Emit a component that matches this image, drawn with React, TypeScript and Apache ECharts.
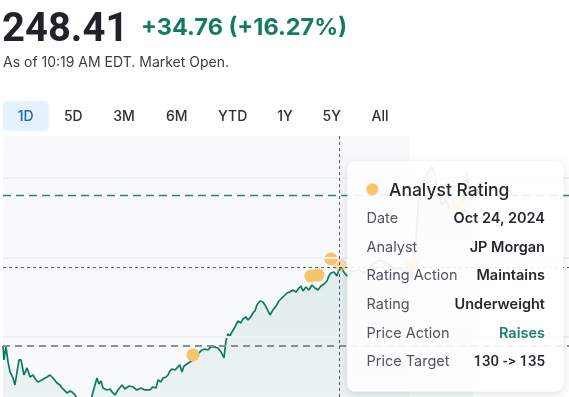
import React, { useEffect, useRef } from "react";
import * as echarts from "echarts";

// minutes since 4:00 AM (pre-market), price in USD
const minutes = [
  0, 0.8, 2.4, 4.1, 5.7, 8.1, 9.7, 11.4, 13.0, 14.6, 17.0, 19.5, 21.9, 24.3, 26.8, 28.4, 31.6, 34.1, 35.7, 38.1,
  40.5, 43.8, 46.2, 47.8, 50.3, 51.9, 54.3, 55.9, 58.4, 60.8, 66.5, 71.4, 73.0, 74.6, 76.2, 77.8, 79.5, 81.1, 84.3, 86.8,
  88.4, 90.8, 93.2, 96.5, 98.9, 102.2, 105.4, 108.6, 111.9, 115.1, 119.2, 121.6, 124.1, 125.7, 128.1, 129.7, 132.2, 133.8, 135.4, 137.0,
  139.5, 141.1, 143.5, 145.1, 146.8, 149.2, 151.6, 154.1, 156.5, 158.9, 161.4, 163.8, 166.2, 168.6, 171.9, 174.3, 176.8, 179.2, 180.8, 182.4,
  184.1, 185.7, 188.1, 190.5, 193.0, 194.6, 197.0, 198.6, 200.3, 202.7, 204.3, 205.9, 208.4, 210.8, 212.4, 214.1, 216.5, 218.9, 221.4, 223.8,
  225.4, 227.8, 230.3, 232.7, 235.1, 237.6, 240.0, 241.6, 243.2, 245.7, 248.1, 250.5, 253.0, 255.4, 257.8, 260.3, 262.7, 264.3, 265.9, 268.4,
  270.8, 272.4, 274.8, 276.4, 278.9, 283.0, 287.8, 292.7, 297.6, 301.6, 305.7, 309.7, 313.8, 317.8, 321.9, 325.9, 329.2, 331.6, 334.9, 337.3,
  339.8, 342.2, 344.6, 347.9, 350.4, 352.8, 356.1, 359.3, 362.4, 366.6, 370.6, 373.9, 376.3, 377.9, 381.1,
];
const prices = [
  213.65, 210.43, 213.42, 209.97, 207.66, 206.28, 204.67, 207.66, 210.43, 210.43, 206.97, 208.59, 206.51, 206.97, 205.82, 205.36, 205.82, 206.28, 206.51, 206.97,
  206.28, 205.13, 204.67, 203.98, 203.29, 202.83, 203.29, 203.06, 202.37, 201.22, 200.53, 201.22, 203.06, 204.67, 206.28, 204.9, 205.59, 203.98, 203.52, 203.75,
  203.06, 202.37, 203.52, 204.67, 203.75, 204.44, 204.21, 203.52, 203.98, 203.52, 203.52, 204.21, 203.98, 205.82, 205.36, 206.28, 206.51, 206.97, 207.89, 208.36,
  208.12, 208.59, 209.28, 207.66, 209.05, 209.51, 209.97, 210.43, 211.12, 212.04, 212.73, 212.96, 212.73, 213.42, 213.42, 213.19, 212.27, 210.89, 214.8, 216.41,
  215.95, 216.87, 218.02, 219.4, 218.94, 219.87, 220.33, 219.63, 220.1, 221.25, 221.71, 223.09, 224.01, 223.78, 223.09, 222.17, 220.79, 221.94, 222.86, 224.01,
  224.47, 225.16, 225.85, 226.08, 226.54, 226.08, 227.0, 227.46, 226.31, 227.23, 226.54, 227.69, 227.0, 226.54, 227.46, 227.92, 228.61, 229.76, 230.45, 230.68,
  229.76, 231.15, 231.61, 230.68, 229.76, 230.68, 231.15, 230.45, 231.61, 233.0, 233.45, 233.0, 232.07, 231.15, 231.61, 230.68, 231.15, 229.3, 238.05, 248.41,
  250.71, 252.32, 253.7, 254.86, 253.0, 248.41, 246.11, 247.26, 244.96, 246.11, 245.42, 247.26, 253.48, 249.56, 248.41,
];

const ratingMinutes = [154.1, 249.7, 255.4, 265.9, 273.2, 331.6, 368.9];
const ratingPrices = [211.58, 229.76, 229.99, 233.68, 232.3, 232.3, 246.11];
const hoveredRating = 4;

const prevClose = 213.65;
const lastPrice = 248.41;
const hoverMinute = 272.4;
const hoverPrice = 231.84;
const gridPrices = [215.72, 233.9, 252.3];
const preMarketEnd = 330;

const headline = { price: "248.41", change: "+34.76 (+16.27%)", asOf: "As of 10:19 AM EDT. Market Open." };
const ranges = ["1D", "5D", "3M", "6M", "YTD", "1Y", "5Y", "All"];
const rangeCenters = [25.7, 73.3, 124, 176.7, 232.7, 285, 331.7, 380];

const tipTitle = "Analyst Rating";
const tipLabels = ["Date", "Analyst", "Rating Action", "Rating", "Price Action", "Price Target"];
const tipValues = ["Oct 24, 2024", "JP Morgan", "Maintains", "Underweight", "Raises", "130 -> 135"];
const tipBaselines = [222.7, 251.7, 280, 309, 337.3, 366];

const FONT = "Inter, 'Noto Sans', sans-serif";
const NUMFONT = "Roboto, 'Noto Sans', sans-serif";
const GREEN = "#0b7a62";

export default function App() {
  const ref = useRef<HTMLDivElement>(null);
  useEffect(() => {
    if (!ref.current) return;
    const chart = echarts.init(ref.current, undefined, { renderer: "svg" });
    const lineData = minutes.map((m, i) => [m, prices[i]]);
    const ratingData = ratingMinutes.map((m, i) => ({
      value: [m, ratingPrices[i]],
      itemStyle: { opacity: i === hoveredRating ? 0.55 : 1 },
    }));

    const txt = (text: string, x: number, y: number, size: number, weight: number | string, fill: string, align = "left", family = FONT) => ({
      type: "text",
      z: 101,
      style: {
        text, x, y, fill,
        font: `${weight} ${size}px ${family}`,
        align, verticalAlign: "middle",
        textAlign: align, textVerticalAlign: "middle",
      },
    });

    const graphics: any[] = [
      txt(headline.price, 2, 41.7 - 14, 40, 700, "#1f2327", "left", NUMFONT),
      txt(headline.change, 141, 35 - 8.2, 23.5, 700, "#147a62"),
      txt(headline.asOf, 3, 66.5 - 5, 14, 400, "#3a3f45"),
      { type: "rect", z: 100, shape: { x: 2.7, y: 101, width: 46.3, height: 29.7, r: 5 }, style: { fill: "#e5f1fd" } },
      ...ranges.map((r, i) => txt(r, rangeCenters[i], 115.8, 14, 500, i === 0 ? "#1b63c8" : "#2b3035", "center")),
      {
        type: "rect", z: 100,
        shape: { x: 347.3, y: 161.5, width: 216, height: 230, r: 8 },
        style: { fill: "rgba(255,255,255,0.9)", shadowBlur: 10, shadowColor: "rgba(0,0,0,0.14)", shadowOffsetY: 2 },
      },
      { type: "circle", z: 101, shape: { cx: 372.3, cy: 189.3, r: 6 }, style: { fill: "#f7c46c" } },
      txt(tipTitle, 389, 196 - 6.2, 17.5, 500, "#25292d"),
      ...tipLabels.map((l, i) => txt(l, 366.5, tipBaselines[i] - 5.1, 14.5, 400, "#50565c")),
      ...tipValues.map((v, i) =>
        txt(v, 545, tipBaselines[i] - 5.1, i === 5 ? 15 : 14.5, i === 5 ? 500 : 600, i === 4 ? "#1c8068" : "#25292d", "right", i === 5 ? NUMFONT : FONT)
      ),
    ];

    chart.setOption({
      animation: false,
      grid: { left: 3, right: 0, top: 136, bottom: 0 },
      xAxis: { type: "value", min: 0, max: 459, show: false },
      yAxis: { type: "value", min: 201.9, max: 262.0, show: false, splitLine: { show: false } },
      graphic: graphics,
      series: [
        {
          type: "line",
          z: 1,
          data: [[0, prevClose]],
          showSymbol: false,
          lineStyle: { opacity: 0 },
          silent: true,
          markArea: {
            silent: true,
            itemStyle: { color: "#f8f9fb" },
            data: [[{ xAxis: 0 }, { xAxis: preMarketEnd }]],
          },
          markLine: {
            silent: true,
            symbol: "none",
            label: { show: false },
            lineStyle: { color: "#eef0f3", width: 2, type: "solid" },
            data: gridPrices.map((p) => ({ yAxis: p })),
          },
        },
        {
          type: "line",
          z: 2,
          data: [[0, prevClose]],
          showSymbol: false,
          lineStyle: { opacity: 0 },
          silent: true,
          markLine: {
            silent: true,
            symbol: "none",
            label: { show: false },
            data: [
              { yAxis: lastPrice, lineStyle: { color: "#2a8570", width: 1.3, type: [8, 5] } },
              { yAxis: prevClose, lineStyle: { color: "#8d8d8d", width: 1.8, type: [7, 5] } },
              { yAxis: hoverPrice, lineStyle: { color: "#555a5f", width: 1, type: [3, 3] } },
              { xAxis: hoverMinute, lineStyle: { color: "#555a5f", width: 1, type: [3, 3] } },
            ],
          },
        },
        {
          type: "line",
          z: 3,
          data: lineData,
          showSymbol: false,
          symbol: "none",
          clip: true,
          lineStyle: { color: GREEN, width: 1.7 },
          areaStyle: {
            color: new echarts.graphic.LinearGradient(0, 0, 0, 1, [
              { offset: 0, color: "rgba(11,122,98,0.2)" },
              { offset: 1, color: "rgba(11,122,98,0.07)" },
            ]),
          },
        },
        {
          type: "scatter",
          z: 4,
          symbolSize: 13,
          itemStyle: { color: "#f7c46c" },
          data: ratingData,
        },
        {
          type: "scatter",
          z: 4,
          symbolSize: 9,
          itemStyle: { color: "#3c9c86" },
          data: [[minutes[minutes.length - 1], prices[prices.length - 1]]],
        },
      ],
    });
    return () => chart.dispose();
  }, []);
  return <div ref={ref} style={{ position: "fixed", left: 0, top: 0, width: 569, height: 397 }} />;
}
